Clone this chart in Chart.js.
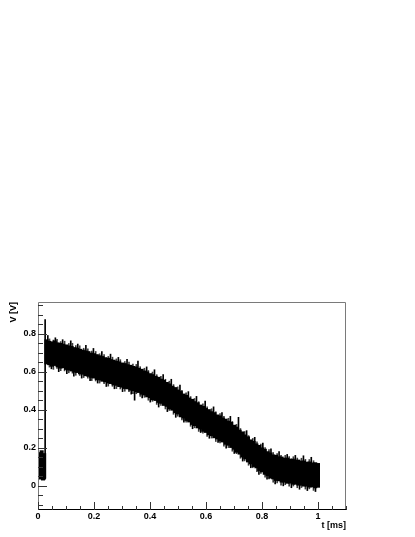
<!DOCTYPE html>
<html>
<head>
<meta charset="utf-8">
<script src="https://cdn.jsdelivr.net/npm/chart.js@4.4.1/dist/chart.umd.min.js"></script>
<style>
html, body { margin: 0; padding: 0; background: #fff; }
</style>
</head>
<body>
<canvas id="voltageChart" width="415" height="537"></canvas>
<script>
// sample times [ms] of the dense band (start segment + main trace)
var tBand = [
    0.003, 0.008, 0.013, 0.018, 0.022,
    0.03, 0.04, 0.05, 0.06, 0.07, 0.08, 0.09, 0.10, 0.11, 0.12,
    0.13, 0.14, 0.15, 0.16, 0.17, 0.18, 0.19, 0.20, 0.21, 0.22,
    0.23, 0.24, 0.25, 0.26, 0.27, 0.28, 0.29, 0.30, 0.31, 0.32,
    0.33, 0.34, 0.35, 0.36, 0.37, 0.38, 0.39, 0.40, 0.41, 0.42,
    0.43, 0.44, 0.45, 0.46, 0.47, 0.48, 0.49, 0.50, 0.51, 0.52,
    0.53, 0.54, 0.55, 0.56, 0.57, 0.58, 0.59, 0.60, 0.61, 0.62,
    0.63, 0.64, 0.65, 0.66, 0.67, 0.68, 0.69, 0.70, 0.71, 0.72,
    0.73, 0.74, 0.75, 0.76, 0.77, 0.78, 0.79, 0.80, 0.81, 0.82,
    0.83, 0.84, 0.85, 0.86, 0.87, 0.88, 0.89, 0.90, 0.91, 0.92,
    0.93, 0.94, 0.95, 0.96, 0.97, 0.98, 0.99, 1.00
];
// lower / upper end of the error bars [V]
var vLow = [
    0.045, 0.035, 0.050, 0.030, 0.040,
    0.640, 0.636, 0.628, 0.632, 0.625, 0.618, 0.620, 0.611, 0.608, 0.603,
    0.597, 0.595, 0.588, 0.586, 0.578, 0.575, 0.569, 0.566, 0.558, 0.556,
    0.549, 0.546, 0.540, 0.537, 0.530, 0.528, 0.521, 0.518, 0.511, 0.509,
    0.502, 0.500, 0.494, 0.490, 0.481, 0.477, 0.467, 0.463, 0.452, 0.448,
    0.438, 0.433, 0.422, 0.417, 0.404, 0.397, 0.384, 0.377, 0.362, 0.356,
    0.343, 0.335, 0.322, 0.316, 0.304, 0.298, 0.286, 0.280, 0.268, 0.263,
    0.252, 0.246, 0.235, 0.230, 0.218, 0.213, 0.201, 0.192, 0.176, 0.166,
    0.151, 0.141, 0.125, 0.115, 0.101, 0.094, 0.080, 0.073, 0.060, 0.053,
    0.040, 0.036, 0.028, 0.026, 0.019, 0.019, 0.013, 0.014, 0.008, 0.008,
    0.003, 0.003, -0.002, -0.002, -0.007, -0.006, -0.011, -0.008
];
var vHigh = [
    0.175, 0.160, 0.185, 0.165, 0.170,
    0.768, 0.760, 0.757, 0.762, 0.752, 0.749, 0.745, 0.741, 0.736, 0.733,
    0.727, 0.724, 0.718, 0.714, 0.709, 0.706, 0.698, 0.695, 0.690, 0.684,
    0.680, 0.674, 0.671, 0.664, 0.661, 0.655, 0.652, 0.646, 0.643, 0.637,
    0.634, 0.628, 0.625, 0.618, 0.613, 0.604, 0.599, 0.590, 0.585, 0.576,
    0.571, 0.561, 0.555, 0.544, 0.536, 0.524, 0.517, 0.504, 0.496, 0.483,
    0.476, 0.462, 0.455, 0.443, 0.437, 0.425, 0.418, 0.407, 0.401, 0.390,
    0.385, 0.373, 0.368, 0.357, 0.351, 0.340, 0.334, 0.319, 0.309, 0.293,
    0.284, 0.268, 0.258, 0.242, 0.234, 0.221, 0.213, 0.200, 0.193, 0.180,
    0.173, 0.163, 0.161, 0.153, 0.152, 0.146, 0.146, 0.141, 0.141, 0.135,
    0.136, 0.130, 0.131, 0.125, 0.126, 0.121, 0.122, 0.118
];

// single error bars sticking out of the band
var tSpike = [
    0.0255, 0.035, 0.048, 0.062, 0.074, 0.088, 0.103, 0.117, 0.128, 0.142,
    0.156, 0.171, 0.186, 0.198, 0.213, 0.228, 0.244, 0.259, 0.273, 0.287,
    0.302, 0.318, 0.333, 0.345, 0.357, 0.372, 0.388, 0.401, 0.416, 0.431,
    0.447, 0.462, 0.476, 0.492, 0.507, 0.521, 0.537, 0.552, 0.566, 0.581,
    0.597, 0.612, 0.627, 0.643, 0.657, 0.672, 0.687, 0.701, 0.716, 0.731,
    0.745, 0.760, 0.774, 0.789, 0.803, 0.818, 0.832, 0.847, 0.861, 0.876,
    0.890, 0.905, 0.919, 0.934, 0.948, 0.962, 0.976, 0.991
];
var spikeLow = [
    0.035, 0.650, 0.615, 0.660, 0.600, 0.650, 0.590, 0.640, 0.576, 0.630,
    0.566, 0.620, 0.552, 0.600, 0.540, 0.590, 0.522, 0.580, 0.510, 0.560,
    0.495, 0.550, 0.482, 0.450, 0.540, 0.462, 0.520, 0.440, 0.500, 0.414,
    0.480, 0.390, 0.450, 0.360, 0.420, 0.335, 0.390, 0.300, 0.360, 0.280,
    0.340, 0.250, 0.310, 0.228, 0.280, 0.198, 0.260, 0.170, 0.230, 0.130,
    0.190, 0.095, 0.150, 0.060, 0.110, 0.035, 0.090, 0.010, 0.070, 0.000,
    0.060, -0.010, 0.050, -0.018, 0.040, -0.025, 0.040, -0.030
];
var spikeHigh = [
    0.873, 0.790, 0.700, 0.778, 0.690, 0.768, 0.680, 0.762, 0.670, 0.745,
    0.660, 0.738, 0.650, 0.722, 0.640, 0.705, 0.620, 0.692, 0.610, 0.675,
    0.600, 0.665, 0.580, 0.570, 0.655, 0.560, 0.625, 0.540, 0.610, 0.510,
    0.585, 0.490, 0.560, 0.460, 0.530, 0.430, 0.495, 0.400, 0.470, 0.380,
    0.445, 0.350, 0.415, 0.320, 0.385, 0.300, 0.365, 0.270, 0.360, 0.230,
    0.290, 0.200, 0.255, 0.160, 0.225, 0.130, 0.195, 0.110, 0.180, 0.100,
    0.165, 0.090, 0.160, 0.080, 0.158, 0.070, 0.150, 0.065
];

// shorter error bars giving the fuzzy edge of the band
var tFine = [
    0.041, 0.055, 0.068, 0.081, 0.095, 0.110, 0.123, 0.135, 0.149, 0.163,
    0.178, 0.192, 0.206, 0.220, 0.236, 0.251, 0.266, 0.280, 0.294, 0.310,
    0.325, 0.339, 0.351, 0.365, 0.380, 0.394, 0.409, 0.424, 0.439, 0.455,
    0.469, 0.484, 0.499, 0.514, 0.529, 0.545, 0.559, 0.574, 0.589, 0.604,
    0.620, 0.635, 0.650, 0.664, 0.680, 0.694, 0.709, 0.723, 0.738, 0.752,
    0.767, 0.782, 0.796, 0.811, 0.825, 0.840, 0.854, 0.868, 0.883, 0.897,
    0.912, 0.926, 0.941, 0.955, 0.969, 0.984
];
var fineLow = [
    0.624, 0.612, 0.617, 0.605, 0.604, 0.594, 0.592, 0.581, 0.580, 0.569,
    0.566, 0.553, 0.551, 0.540, 0.537, 0.524, 0.523, 0.511, 0.509, 0.497,
    0.495, 0.484, 0.484, 0.470, 0.465, 0.450, 0.444, 0.428, 0.422, 0.404,
    0.396, 0.376, 0.366, 0.346, 0.335, 0.313, 0.305, 0.286, 0.277, 0.259,
    0.251, 0.233, 0.226, 0.209, 0.201, 0.182, 0.169, 0.145, 0.131, 0.108,
    0.095, 0.075, 0.065, 0.045, 0.036, 0.019, 0.015, 0.004, 0.006, -0.002,
    -0.001, -0.010, -0.009, -0.017, -0.016, -0.024
];
var fineHigh = [
    0.772, 0.766, 0.770, 0.758, 0.760, 0.748, 0.749, 0.737, 0.736, 0.723,
    0.720, 0.708, 0.706, 0.694, 0.690, 0.680, 0.676, 0.667, 0.663, 0.653,
    0.650, 0.640, 0.638, 0.626, 0.618, 0.606, 0.598, 0.584, 0.576, 0.560,
    0.550, 0.532, 0.520, 0.502, 0.489, 0.469, 0.459, 0.442, 0.431, 0.415,
    0.405, 0.389, 0.380, 0.365, 0.355, 0.338, 0.323, 0.301, 0.285, 0.264,
    0.249, 0.231, 0.219, 0.201, 0.190, 0.175, 0.169, 0.160, 0.160, 0.154,
    0.153, 0.146, 0.145, 0.139, 0.138, 0.132
];

// axis labels
var xTickLabels = [0, 0.2, 0.4, 0.6, 0.8, 1];
var yTickLabels = [0, 0.2, 0.4, 0.6, 0.8];

var X_MIN = 0, X_MAX = 1.1;
var Y_MIN = -0.127, Y_MAX = 0.966;

var labelFont = { family: "'Liberation Sans', Arial, sans-serif", size: 9, weight: 'bold' };

function toPoints(ts, lo, hi) {
    return ts.map(function (t, i) { return { x: t, y: [lo[i], hi[i]] }; });
}

function fmt(v) {
    return String(Math.round(v * 10) / 10);
}

// ROOT style frame with ticks drawn inside the plot
var rootFrame = {
    id: 'rootFrame',
    afterDraw: function (chart) {
        var ctx = chart.ctx, a = chart.chartArea;
        var xs = chart.scales.x, ys = chart.scales.y;
        ctx.save();
        ctx.lineWidth = 1;

        ctx.strokeStyle = '#7a7a7a';
        ctx.beginPath();
        ctx.moveTo(a.left + 0.5, a.bottom);
        ctx.lineTo(a.left + 0.5, a.top + 0.5);
        ctx.lineTo(a.right - 0.5, a.top + 0.5);
        ctx.lineTo(a.right - 0.5, a.bottom);
        ctx.stroke();

        ctx.strokeStyle = '#000';
        ctx.beginPath();
        ctx.moveTo(a.left, a.bottom - 0.5);
        ctx.lineTo(a.right, a.bottom - 0.5);
        ctx.stroke();

        var i, v, p, major;
        ctx.strokeStyle = '#333';
        ctx.beginPath();
        for (i = 0; i * 0.05 <= X_MAX + 1e-9; i++) {
            v = i * 0.05;
            major = i % 4 === 0;
            p = Math.round(xs.getPixelForValue(v)) + 0.5;
            ctx.moveTo(p, a.bottom);
            ctx.lineTo(p, a.bottom - (major ? 8 : 4));
        }
        for (i = -2; i * 0.05 <= Y_MAX; i++) {
            v = i * 0.05;
            major = ((i % 4) + 4) % 4 === 0;
            p = Math.round(ys.getPixelForValue(v)) + 0.5;
            ctx.moveTo(a.left, p);
            ctx.lineTo(a.left + (major ? 9 : 5), p);
        }
        ctx.stroke();
        ctx.restore();
    }
};

var ctxV = document.getElementById('voltageChart');

// all datasets share one stack so every error bar sits on its own t value;
// Chart.js paints the first dataset last, so the solid band goes first
var voltageChart = new Chart(ctxV, {
    type: 'bar',
    data: {
        datasets: [{
            label: 'band',
            data: toPoints(tBand, vLow, vHigh),
            backgroundColor: '#000',
            borderWidth: 0,
            barThickness: 3.4,
            stack: 'trace'
        }, {
            label: 'spikes',
            data: toPoints(tSpike, spikeLow, spikeHigh),
            backgroundColor: '#000',
            borderWidth: 0,
            barThickness: 1,
            stack: 'trace'
        }, {
            label: 'fine',
            data: toPoints(tFine, fineLow, fineHigh),
            backgroundColor: '#3c3c3c',
            borderWidth: 0,
            barThickness: 1,
            stack: 'trace'
        }]
    },
    options: {
        responsive: false,
        animation: false,
        devicePixelRatio: 1,
        layout: { padding: { top: 302, right: 69, left: 0, bottom: 0 } },
        plugins: {
            legend: { display: false },
            tooltip: { enabled: false }
        },
        scales: {
            x: {
                type: 'linear',
                min: X_MIN,
                max: X_MAX,
                offset: false,
                grid: { display: false, drawTicks: false },
                border: { display: false },
                ticks: {
                    font: labelFont,
                    color: '#000',
                    padding: 1,
                    maxRotation: 0,
                    autoSkip: false,
                    callback: function (v) { return fmt(v); }
                },
                afterBuildTicks: function (scale) {
                    scale.ticks = xTickLabels.map(function (v) { return { value: v }; });
                },
                afterFit: function (scale) { scale.height = 27; },
                title: {
                    display: true,
                    text: 't [ms]',
                    align: 'end',
                    font: labelFont,
                    color: '#000',
                    padding: { top: 0, bottom: 6 }
                }
            },
            y: {
                type: 'linear',
                min: Y_MIN,
                max: Y_MAX,
                stacked: false,
                grid: { display: false, drawTicks: false },
                border: { display: false },
                ticks: {
                    font: labelFont,
                    color: '#000',
                    padding: 2,
                    autoSkip: false,
                    callback: function (v) { return fmt(v); }
                },
                afterBuildTicks: function (scale) {
                    scale.ticks = yTickLabels.map(function (v) { return { value: v }; });
                },
                afterFit: function (scale) { scale.width = 38; },
                title: {
                    display: true,
                    text: 'V [V]',
                    align: 'end',
                    font: labelFont,
                    color: '#000',
                    padding: { top: 8, bottom: 0 }
                }
            }
        }
    },
    plugins: [rootFrame]
});
</script>
</body>
</html>
